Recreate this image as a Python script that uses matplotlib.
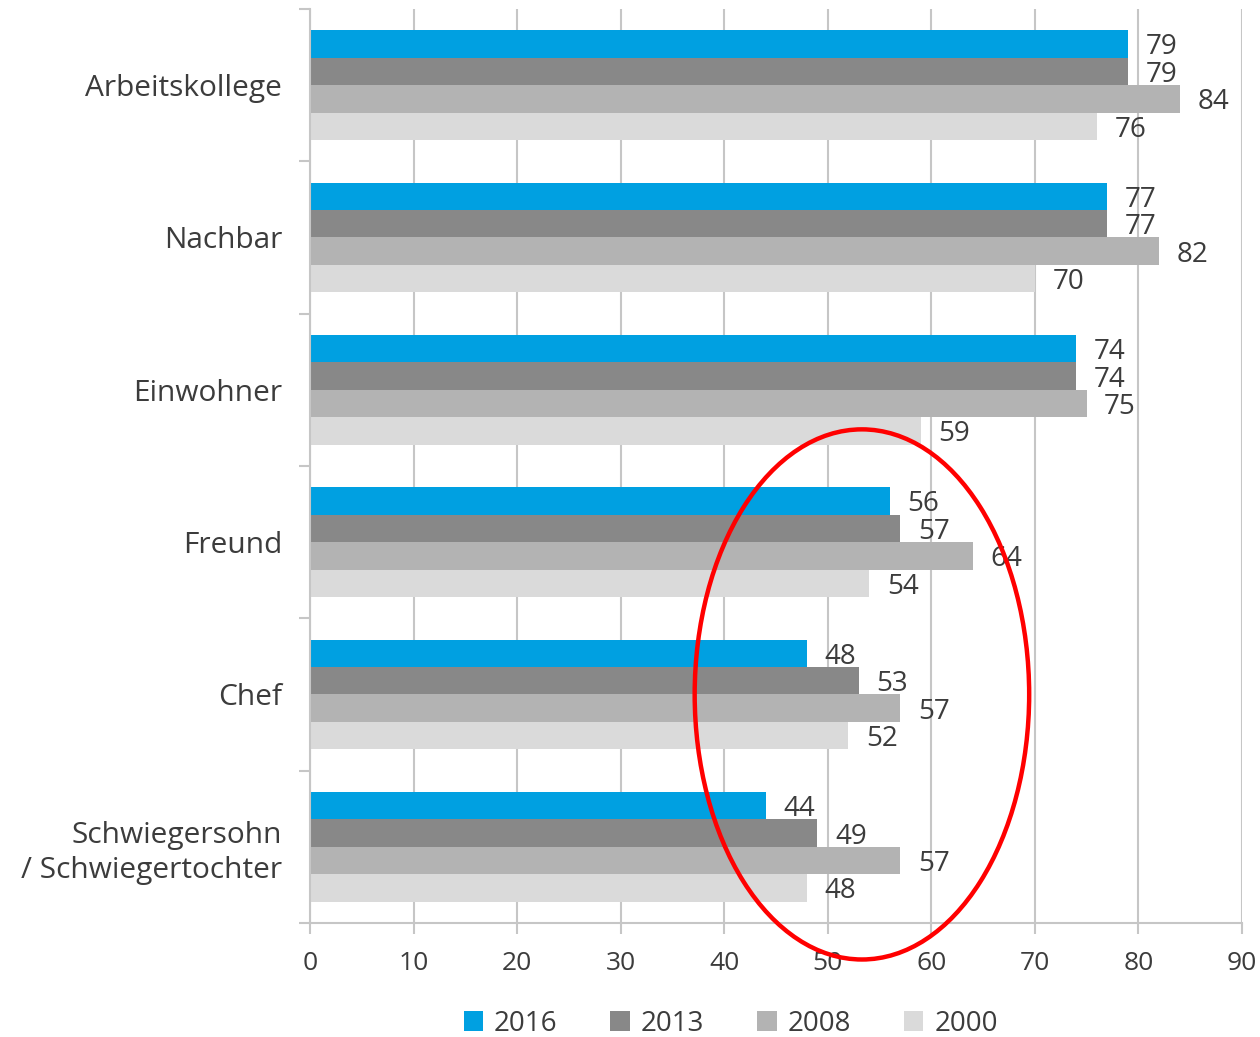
"""Horizontal grouped bar chart with highlight ellipse."""

import numpy as np
import matplotlib.pyplot as plt
from matplotlib.patches import Ellipse

categories = ['Arbeitskollege', 'Nachbar', 'Einwohner', 'Freund', 'Chef',
              'Schwiegersohn\n/ Schwiegertochter']
years = ['2016', '2013', '2008', '2000']
v2016 = [79, 77, 74, 56, 48, 44]
v2013 = [79, 77, 74, 57, 53, 49]
v2008 = [84, 82, 75, 64, 57, 57]
v2000 = [76, 70, 59, 54, 52, 48]
series = [v2016, v2013, v2008, v2000]
colors = ['#00a0e1', '#888888', '#b3b3b3', '#dadada']

plt.rcParams['font.family'] = ['Open Sans', 'DejaVu Sans']
text_color = '#3c3c3c'
grid_color = '#c6c6c6'

fig = plt.figure(figsize=(12.6, 10.37), dpi=100)
ax = fig.add_axes([0.246, 0.110, 0.7397, 0.8814])

y = np.arange(len(categories))
h = 0.18
for k, (vals, c) in enumerate(zip(series, colors)):
    pos = y + (k - 1.5) * h
    ax.barh(pos, vals, height=h, color=c, label=years[k], zorder=2)
    for p, v in zip(pos, vals):
        ax.text(v + 1.7, p, str(v), va='center_baseline', ha='left', fontsize=20,
                color=text_color, zorder=4)

ax.set_xlim(0, 90)
ax.set_ylim(len(categories) - 0.5, -0.5)
ax.set_xticks(np.arange(0, 91, 10))
ax.set_yticks(y)
ax.set_yticklabels(categories, fontsize=21.5, color=text_color, linespacing=1.25)
ax.set_yticks(np.arange(-0.5, len(categories)), minor=True)
ax.tick_params(axis='y', which='major', length=0, pad=20)
ax.tick_params(axis='y', which='minor', length=8, width=1.5, color=grid_color)
ax.tick_params(axis='x', length=8, width=1.5, color=grid_color, labelsize=19,
               labelcolor=text_color, pad=12)

ax.grid(axis='x', color=grid_color, linewidth=1.5, zorder=0)
for s in ['top', 'right']:
    ax.spines[s].set_visible(False)
for s in ['left', 'bottom']:
    ax.spines[s].set_color(grid_color)
    ax.spines[s].set_linewidth(1.5)

ell = Ellipse((53.3, 4.0), width=32.3, height=3.48, fill=False,
              edgecolor='#ff0000', linewidth=3.2, clip_on=False, zorder=5)
ax.add_patch(ell)

leg = fig.legend(loc='center', bbox_to_anchor=(0.58, 0.013), ncol=4,
                 frameon=False, fontsize=20, handlelength=0.7, handleheight=0.7,
                 handletextpad=0.4, columnspacing=1.9)
for t in leg.get_texts():
    t.set_color(text_color)

fig.savefig('out.png', dpi=100)
plt.close()
